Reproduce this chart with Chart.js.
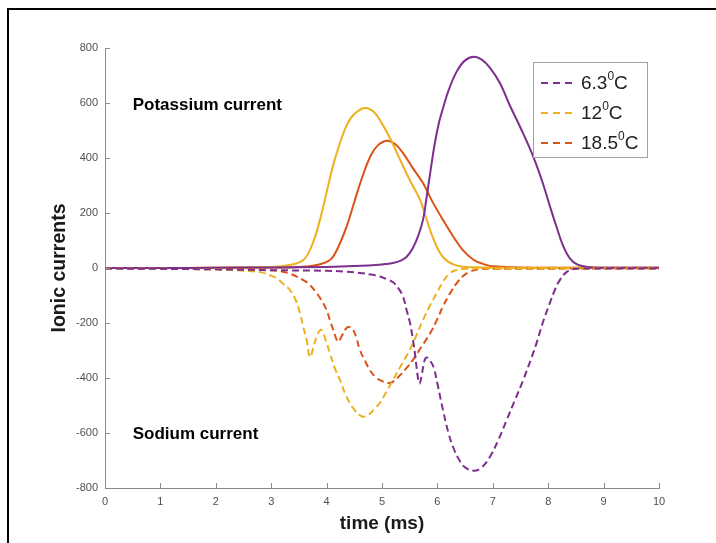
<!DOCTYPE html>
<html><head><meta charset="utf-8">
<script src="https://cdn.jsdelivr.net/npm/chart.js@4/dist/chart.umd.min.js"></script>
<style>html,body{margin:0;padding:0;background:#fff;}#wrap{position:relative;width:716px;height:543px;}</style>
</head><body><div id="wrap"><canvas id="c" width="716" height="543"></canvas></div>
<script>
// ---- Data ----
const tempLabels = ['6.3', '12', '18.5'];
const xTicks = [0,1,2,3,4,5,6,7,8,9,10];
const yTicks = [-800,-600,-400,-200,0,200,400,600,800];

// Potassium current (solid)
const kTime63 = [0,1,2,3,4,4.5,5,5.2,5.35,5.45,5.55,5.65,5.74,5.8,5.87,5.95,6.03,6.1,6.2,6.35,6.5,6.66,6.8,6.95,7.13,7.31,7.5,7.73,7.9,8.03,8.15,8.27,8.39,8.52,8.7,9,10];
const kVal63  = [0,0,1,2,4,7,13,18,28,42,70,115,175,250,345,450,530,580,645,715,755,768,758,728,672,590,510,405,310,225,150,80,35,13,4,1,1];
const kTime12 = [0,1,2,2.5,3,3.3,3.58,3.75,3.88,4,4.12,4.25,4.37,4.5,4.69,4.85,5,5.15,5.3,5.5,5.69,5.8,5.93,6.1,6.3,6.5,6.8,7,8,9,10];
const kVal12  = [0,0,1,2,4,10,29,90,175,275,375,460,522,560,582,568,525,470,405,320,247,180,105,40,12,4,2,1,1,1,1];
const kTime185 = [0,1,2,3,3.5,3.8,4.06,4.2,4.36,4.5,4.66,4.8,4.92,5.08,5.23,5.38,5.55,5.74,5.9,6.1,6.3,6.46,6.65,6.82,7,7.5,8,9,10];
const kVal185  = [0,0,1,2,4,10,29,72,150,240,340,410,445,463,452,418,365,309,245,175,110,65,30,15,6,2,1,1,1];

// Sodium current (dashed)
const naTime63 = [0,1,2,3,4,4.3,4.6,4.8,4.96,5.1,5.2,5.3,5.38,5.44,5.5,5.56,5.6,5.65,5.68,5.72,5.77,5.81,5.86,5.93,6,6.1,6.2,6.28,6.4,6.5,6.66,6.8,6.95,7.1,7.25,7.4,7.55,7.7,7.79,7.9,8.03,8.12,8.21,8.33,8.45,9,10];
const naVal63  = [-2,-3,-5,-8,-10,-13,-18,-24,-31,-42,-52,-75,-104,-150,-195,-262,-320,-400,-420,-385,-335,-325,-335,-360,-420,-516,-600,-650,-700,-725,-737,-725,-686,-625,-553,-480,-407,-325,-273,-200,-127,-80,-44,-15,-4,-2,-2];
const naTime12 = [0,1,2,2.5,2.8,3,3.1,3.2,3.34,3.45,3.52,3.58,3.64,3.7,3.76,3.82,3.9,3.98,4.06,4.15,4.24,4.36,4.5,4.64,4.75,4.85,4.96,5.08,5.2,5.35,5.5,5.62,5.74,5.87,5.99,6.1,6.23,6.35,6.47,7,10];
const naVal12  = [-2,-3,-5,-10,-15,-28,-37,-55,-80,-120,-165,-215,-262,-324,-290,-250,-225,-260,-310,-365,-407,-468,-515,-540,-535,-515,-491,-450,-407,-352,-298,-245,-189,-135,-91,-50,-18,-7,-3,-2,-2];
const naTime185 = [0,1,2,3,3.3,3.58,3.7,3.82,3.9,4,4.06,4.12,4.17,4.21,4.28,4.36,4.42,4.48,4.54,4.6,4.7,4.78,4.9,5.02,5.12,5.2,5.35,5.45,5.56,5.7,5.87,6,6.1,6.22,6.35,6.47,6.59,6.75,7,10];
const naVal185  = [-2,-3,-5,-8,-18,-44,-62,-91,-115,-153,-190,-225,-255,-268,-245,-218,-215,-225,-255,-298,-340,-371,-400,-413,-418,-413,-385,-362,-334,-290,-237,-185,-140,-95,-55,-28,-13,-5,-3,-2];

// ---- Styles ----
const COL = ['#7E2F8E', '#EDB120', '#D95319'];
const FONT = "'Liberation Sans', Arial, Helvetica, sans-serif";
const pts = (xs, ys) => xs.map((x, i) => ({x: x, y: ys[i]}));
const kSets = [[kTime63,kVal63],[kTime12,kVal12],[kTime185,kVal185]];
const naSets = [[naTime63,naVal63],[naTime12,naVal12],[naTime185,naVal185]];

const datasets = [];
naSets.forEach((s, i) => datasets.push({label: tempLabels[i], data: pts(s[0], s[1]), borderColor: COL[i], borderWidth: 2, borderDash: [7,4], pointRadius: 0, tension: 0.4, fill: false}));
kSets.forEach((s, i) => datasets.push({label: 'K ' + tempLabels[i], data: pts(s[0], s[1]), borderColor: COL[i], borderWidth: 2, pointRadius: 0, tension: 0.4, fill: false}));

const decor = {
  id: 'decor',
  beforeDraw(chart) {
    const ctx = chart.ctx;
    ctx.save();
    ctx.fillStyle = '#fff';
    ctx.fillRect(0, 0, chart.width, chart.height);
    ctx.fillStyle = '#000';
    ctx.fillRect(7, 8, chart.width - 7, 2);
    ctx.fillRect(7, 8, 2, chart.height - 8);
    ctx.restore();
  },
  afterDraw(chart) {
    const ctx = chart.ctx;
    const xs = chart.scales.x, ys = chart.scales.y;
    ctx.save();
    // inward tick marks
    ctx.strokeStyle = '#8a8a8a';
    ctx.lineWidth = 1;
    ctx.beginPath();
    xs.ticks.forEach(t => { const p = Math.round(xs.getPixelForValue(t.value)) + 0.5; ctx.moveTo(p, xs.top); ctx.lineTo(p, xs.top - 5); });
    ys.ticks.forEach(t => { const p = Math.round(ys.getPixelForValue(t.value)) + 0.5; ctx.moveTo(ys.right, p); ctx.lineTo(ys.right + 5, p); });
    ctx.stroke();
    // annotations
    ctx.fillStyle = '#000';
    ctx.font = 'bold 17px ' + FONT;
    ctx.textBaseline = 'middle';
    ctx.textAlign = 'left';
    ctx.fillText('Potassium current', xs.getPixelForValue(0.5), ys.getPixelForValue(590));
    ctx.fillText('Sodium current', xs.getPixelForValue(0.5), ys.getPixelForValue(-605));
    // legend
    const bx = 533.5, by = 62.5, bw = 114, bh = 95;
    ctx.fillStyle = '#fff';
    ctx.fillRect(bx, by, bw, bh);
    ctx.strokeStyle = '#a0a0a0';
    ctx.lineWidth = 1;
    ctx.strokeRect(bx, by, bw, bh);
    tempLabels.forEach((lab, i) => {
      const cy = 83 + 30 * i;
      ctx.strokeStyle = COL[i];
      ctx.lineWidth = 2;
      ctx.setLineDash([7,5]);
      ctx.beginPath(); ctx.moveTo(541, cy); ctx.lineTo(575, cy); ctx.stroke();
      ctx.setLineDash([]);
      ctx.fillStyle = '#222';
      ctx.textBaseline = 'middle';
      ctx.font = '19px ' + FONT;
      let x = 581;
      ctx.fillText(lab, x, cy + 1);
      x += ctx.measureText(lab).width;
      ctx.font = '12px ' + FONT;
      ctx.fillText('0', x, cy - 6);
      x += ctx.measureText('0').width;
      ctx.font = '19px ' + FONT;
      ctx.fillText('C', x, cy + 1);
    });
    ctx.restore();
  }
};

new Chart(document.getElementById('c'), {
  type: 'line',
  data: { datasets: datasets },
  options: {
    responsive: false,
    devicePixelRatio: 1,
    animation: false,
    layout: { padding: { left: 0, right: 57, top: 48, bottom: 0 } },
    plugins: { legend: { display: false }, tooltip: { enabled: false } },
    scales: {
      x: {
        type: 'linear', min: 0, max: 10,
        afterBuildTicks: s => { s.ticks = xTicks.map(v => ({value: v})); },
        ticks: { color: '#505050', font: { family: FONT, size: 11 }, padding: 7, maxRotation: 0 },
        grid: { display: false, drawTicks: false },
        border: { display: true, color: '#8a8a8a', width: 1 },
        title: { display: true, text: 'time (ms)', color: '#1a1a1a', font: { family: FONT, size: 19, weight: 'bold' }, padding: { top: 8, bottom: 8 } },
        afterFit: s => { s.height = 55; }
      },
      y: {
        type: 'linear', min: -800, max: 800,
        afterBuildTicks: s => { s.ticks = yTicks.map(v => ({value: v})); },
        ticks: { color: '#505050', font: { family: FONT, size: 11 }, padding: 7 },
        grid: { display: false, drawTicks: false },
        border: { display: true, color: '#8a8a8a', width: 1 },
        title: { display: true, text: 'Ionic currents', color: '#1a1a1a', font: { family: FONT, size: 19.5, weight: 'bold' }, padding: { top: 48, bottom: 48 } },
        afterFit: s => { s.width = 105; }
      }
    }
  },
  plugins: [decor]
});
</script>
</body></html>
